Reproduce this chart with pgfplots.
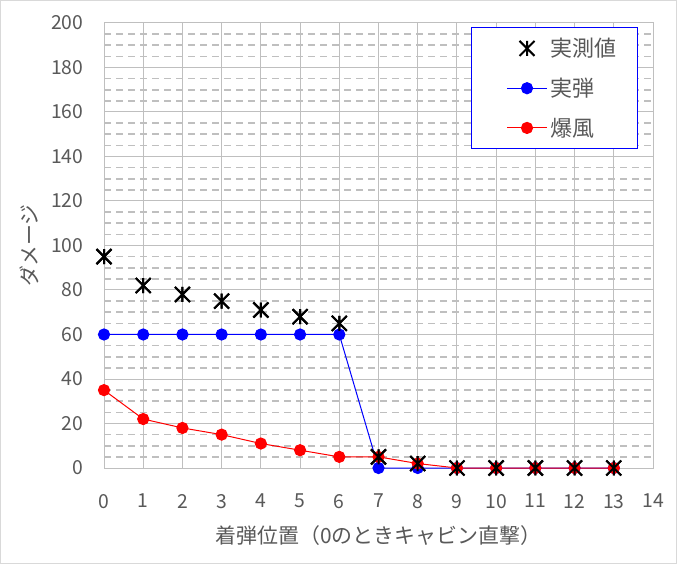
\documentclass[border=0pt]{standalone}
\usepackage{fontspec}
\setmainfont{Noto Sans CJK JP}
\usepackage{pgfplots}
\pgfplotsset{compat=1.18}
\definecolor{tickgray}{HTML}{595959}
\definecolor{gridgray}{HTML}{BFBFBF}
\definecolor{bordergray}{HTML}{D9D9D9}
\pgfdeclareplotmark{xstar}{%
 \pgfpathmoveto{\pgfqpoint{-\pgfplotmarksize}{-\pgfplotmarksize}}%
 \pgfpathlineto{\pgfqpoint{\pgfplotmarksize}{\pgfplotmarksize}}%
 \pgfpathmoveto{\pgfqpoint{-\pgfplotmarksize}{\pgfplotmarksize}}%
 \pgfpathlineto{\pgfqpoint{\pgfplotmarksize}{-\pgfplotmarksize}}%
 \pgfpathmoveto{\pgfqpoint{0pt}{-\pgfplotmarksize}}%
 \pgfpathlineto{\pgfqpoint{0pt}{\pgfplotmarksize}}%
 \pgfusepathqstroke}
\begin{document}
\begin{tikzpicture}
\draw[bordergray, line width=0.75pt, fill=white] (0.375pt,0.375pt) rectangle (507.375pt,422.625pt);
\begin{axis}[
  at={(78pt,72pt)}, anchor=south west,
  scale only axis, width=411.75pt, height=333.75pt,
  xmin=0, xmax=14, ymin=0, ymax=200,
  xtick={0,...,14}, ytick={0,20,...,200},
  minor ytick={5,10,15,25,30,35,45,50,55,65,70,75,85,90,95,105,110,115,125,130,135,145,150,155,165,170,175,185,190,195},
  grid=both,
  major grid style={gridgray, line width=0.75pt},
  minor grid style={gridgray, line width=1.3pt, dash pattern=on 5.5pt off 3.5pt},
  axis line style={gridgray, line width=0.75pt},
  tick style={draw=none},
  /pgf/number format/assume math mode=true,
  every tick label/.append style={font=\fontsize{14.5pt}{17pt}\selectfont, text=tickgray},
  xticklabel shift=16pt,
  yticklabel shift=12pt,
  xlabel={着弾位置（0のときキャビン直撃）},
  ylabel={ダメージ},
  label style={font=\fontsize{15.7pt}{18pt}\selectfont, text=tickgray},
  xlabel style={yshift=-6pt},
  ylabel style={yshift=2pt},
  legend style={at={(0.9727,0.991)}, anchor=north east, draw=blue, line width=0.75pt, fill=white,
    font=\fontsize{16.5pt}{19pt}\selectfont, text=tickgray, row sep=10.5pt, inner xsep=14pt, inner ysep=6pt,
    legend cell align=left},
  legend image code/.code={%
    \path[draw=none, fill=none] (-13pt,-0.5pt) rectangle (-12.5pt,0.5pt);
    \draw[mark repeat=2,mark phase=2,#1] plot coordinates {(0pt,0pt) (15pt,0pt) (30pt,0pt)};},
]
\addplot[only marks, mark=xstar, mark size=5.6pt, line width=1.5pt, black] coordinates {
(0,95) (1,82) (2,78) (3,75) (4,71) (5,68) (6,65) (7,5) (8,2) (9,0) (10,0) (11,0) (12,0) (13,0)};
\addlegendentry{実測値}
\addplot[blue, line width=0.75pt, mark=*, mark size=4.2pt, mark options={draw=blue, fill=blue}] coordinates {
(0,60) (1,60) (2,60) (3,60) (4,60) (5,60) (6,60) (7,0) (8,0) (9,0) (10,0) (11,0) (12,0) (13,0)};
\addlegendentry{実弾}
\addplot[red, line width=0.75pt, mark=*, mark size=4.2pt, mark options={draw=red, fill=red}] coordinates {
(0,35) (1,22) (2,18) (3,15) (4,11) (5,8) (6,5) (7,5) (8,2) (9,0) (10,0) (11,0) (12,0) (13,0)};
\addlegendentry{爆風}
\addplot[only marks, mark=xstar, mark size=5.6pt, line width=1.5pt, black, forget plot] coordinates {
(0,95) (1,82) (2,78) (3,75) (4,71) (5,68) (6,65) (7,5) (8,2) (9,0) (10,0) (11,0) (12,0) (13,0)};
\end{axis}
\end{tikzpicture}
\end{document}
